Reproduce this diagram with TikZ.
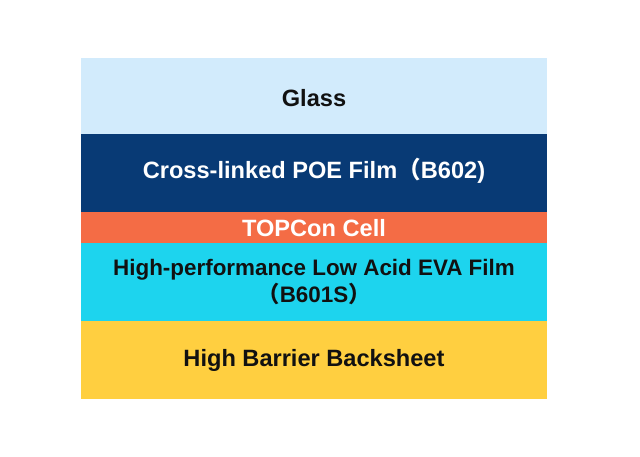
\documentclass[tikz,border=0pt]{standalone}
\usepackage{fontspec}
\setmainfont{Liberation Sans}
\newfontfamily\cjkf{Noto Sans CJK SC}
\definecolor{glassc}{HTML}{D2EBFC}
\definecolor{poec}{HTML}{083A75}
\definecolor{cellc}{HTML}{F46C45}
\definecolor{evac}{HTML}{1DD4EE}
\definecolor{backc}{HTML}{FFCF40}
\definecolor{txtc}{HTML}{111111}
\begin{document}
\begin{tikzpicture}[x=1pt,y=-1pt,
  layer/.style={draw=none,minimum width=466pt,inner sep=0pt,outer sep=0pt,anchor=north west},
  lbl/.style={font=\fontsize{23.6}{27}\selectfont\bfseries,align=center,inner sep=0pt},
  lbls/.style={lbl,font=\fontsize{22.4}{27}\selectfont\bfseries}]
\useasboundingbox[fill=white] (0,0) rectangle (640,456);
\node[layer,fill=glassc,minimum height=76pt] (glass) at (81,58) {};
\node[layer,fill=poec,minimum height=78pt] (poe) at (81,134) {};
\node[layer,fill=cellc,minimum height=31pt] (cell) at (81,212) {};
\node[layer,fill=evac,minimum height=78pt] (eva) at (81,243) {};
\node[layer,fill=backc,minimum height=78pt] (back) at (81,321) {};
\node[lbl,text=txtc] (tglass) at (314,98) {Glass};
\node[lbl,text=white] (tpoe) at (314,171) {Cross-linked POE Film{\cjkf （}B602)};
\node[lbl,text=white] (tcell) at (314,228) {TOPCon Cell};
\node[lbls,text=txtc] (teva) at (314,282) {High-performance Low Acid EVA Film\\{\cjkf （}B601S{\cjkf ）}};
\node[lbl,text=txtc] (tback) at (314,360) {High Barrier Backsheet};
\end{tikzpicture}
\end{document}
